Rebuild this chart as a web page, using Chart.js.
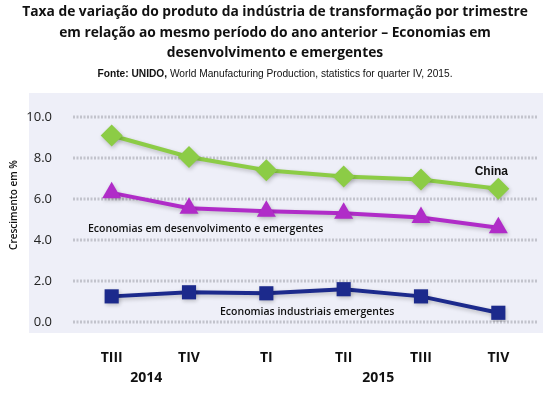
<!DOCTYPE html>
<html>
<head>
<meta charset="utf-8">
<script src="https://cdn.jsdelivr.net/npm/chart.js@4"></script>
<style>
  html, body { margin: 0; padding: 0; background: #fff; }
  #wrap { position: relative; width: 550px; height: 393px; overflow: hidden; }
  #chart { position: absolute; left: 0; top: 0; }
  .title {
    position: absolute; left: 0; width: 550px; text-align: center;
    font-family: "Open Sans", "DejaVu Sans", sans-serif; font-weight: bold;
    font-size: 13.8px; line-height: 20.5px; color: #111; top: 1px;
  }
  .source {
    position: absolute; left: 0; width: 550px; text-align: center; top: 68px;
    font-family: "Liberation Sans", Arial, sans-serif; font-size: 10.2px; color: #111;
  }
</style>
</head>
<body>
<div id="wrap">
  <canvas id="chart" width="550" height="393"></canvas>
  <div class="title">Taxa de variação do produto da indústria de transformação por trimestre<br>em relação ao mesmo período do ano anterior – Economias em<br>desenvolvimento e emergentes</div>
  <div class="source"><b>Fonte: UNIDO,</b> World Manufacturing Production, statistics for quarter IV, 2015.</div>
</div>
<script>
// Quarter labels and year groups
const quarters = ['TIII', 'TIV', 'TI', 'TII', 'TIII', 'TIV'];
const years = [
    { label: '2014', from: 0, to: 1 },
    { label: '2015', from: 2, to: 5 }
];

// Growth in %
const china = [9.1, 8.05, 7.4, 7.1, 6.95, 6.5];
const developing = [6.3, 5.55, 5.4, 5.3, 5.1, 4.6];
const industrial = [1.25, 1.45, 1.4, 1.6, 1.25, 0.45];

const yTicks = [0, 2, 4, 6, 8, 10];

// Background panel, dotted grid, shadows, year labels, axis title, series labels
const decorPlugin = {
    id: 'decor',
    beforeDraw(chart) {
        const ctx = chart.ctx;
        ctx.save();
        ctx.fillStyle = '#eeeff8';
        ctx.fillRect(29, 93, 514, 240);
        ctx.restore();
    },
    beforeDatasetsDraw(chart) {
        const ctx = chart.ctx;
        const y = chart.scales.y;
        const area = chart.chartArea;
        ctx.save();
        ctx.strokeStyle = '#c2c3cc';
        ctx.lineWidth = 3;
        ctx.setLineDash([2, 1.5]);
        yTicks.forEach(v => {
            const py = Math.round(y.getPixelForValue(v));
            ctx.beginPath();
            ctx.moveTo(area.left, py);
            ctx.lineTo(area.right, py);
            ctx.stroke();
        });
        ctx.restore();
        ctx.save();
        ctx.shadowColor = 'rgba(0,0,0,0.22)';
        ctx.shadowBlur = 4;
        ctx.shadowOffsetX = 1;
        ctx.shadowOffsetY = 2;
    },
    afterDatasetsDraw(chart) {
        chart.ctx.restore();
    },
    afterDraw(chart) {
        const ctx = chart.ctx;
        const x = chart.scales.x;
        const y = chart.scales.y;
        ctx.save();
        ctx.fillStyle = '#111';
        ctx.textAlign = 'center';
        ctx.textBaseline = 'middle';
        ctx.font = 'bold 14px "Open Sans", "DejaVu Sans", sans-serif';
        years.forEach(yr => {
            const cx = (x.getPixelForValue(yr.from) + x.getPixelForValue(yr.to)) / 2;
            ctx.fillText(yr.label, cx - 4, 378);
        });

        ctx.font = '600 10px "Open Sans", "DejaVu Sans", sans-serif';
        ctx.translate(14, 205);
        ctx.rotate(-Math.PI / 2);
        ctx.fillText('Crescimento em %', 0, 0);
        ctx.restore();

        ctx.save();
        ctx.fillStyle = '#111';
        ctx.textBaseline = 'middle';
        ctx.font = 'bold 12px "Liberation Sans", Arial, sans-serif';
        ctx.textAlign = 'center';
        ctx.fillText('China', x.getPixelForValue(5) - 7, y.getPixelForValue(7.32));
        ctx.font = '600 10.5px "Open Sans", "DejaVu Sans", sans-serif';
        ctx.textAlign = 'left';
        ctx.fillText('Economias em desenvolvimento e emergentes', 88, y.getPixelForValue(4.55));
        ctx.fillText('Economias industriais emergentes', 220, y.getPixelForValue(0.5));
        ctx.restore();
    }
};

function series(label, data, color, style, radius) {
    return {
        label,
        data,
        borderColor: color,
        backgroundColor: color,
        borderWidth: 4,
        tension: 0,
        pointStyle: style,
        pointRadius: radius,
        pointHoverRadius: radius,
        pointBorderWidth: 0
    };
}

const ctx = document.getElementById('chart').getContext('2d');
new Chart(ctx, {
    type: 'line',
    data: {
        labels: quarters,
        datasets: [
            series('China', china, '#8ccc46', 'rectRot', 11),
            series('Economias em desenvolvimento e emergentes', developing, '#b02cc8', 'triangle', 11),
            series('Economias industriais emergentes', industrial, '#1c2a8c', 'rect', 10)
        ]
    },
    options: {
        responsive: false,
        animation: false,
        layout: { padding: { top: 117, right: 13, left: 0, bottom: 0 } },
        plugins: {
            legend: { display: false },
            title: { display: false },
            tooltip: { enabled: false }
        },
        scales: {
            x: {
                offset: true,
                grid: { display: false },
                border: { display: false },
                ticks: {
                    color: '#111',
                    padding: 20,
                    font: { size: 14, weight: 'bold', family: '"Open Sans", "DejaVu Sans", sans-serif' }
                },
                afterFit(scale) { scale.height = 71; }
            },
            y: {
                min: 0,
                max: 10,
                afterBuildTicks(scale) { scale.ticks = yTicks.map(v => ({ value: v })); },
                grid: { display: false },
                border: { display: false },
                ticks: {
                    color: '#222',
                    padding: 13,
                    font: { size: 13, family: '"Open Sans", "DejaVu Sans", sans-serif' },
                    callback: v => v.toFixed(1)
                },
                afterFit(scale) { scale.width = 73; }
            }
        }
    },
    plugins: [decorPlugin]
});
</script>
</body>
</html>
